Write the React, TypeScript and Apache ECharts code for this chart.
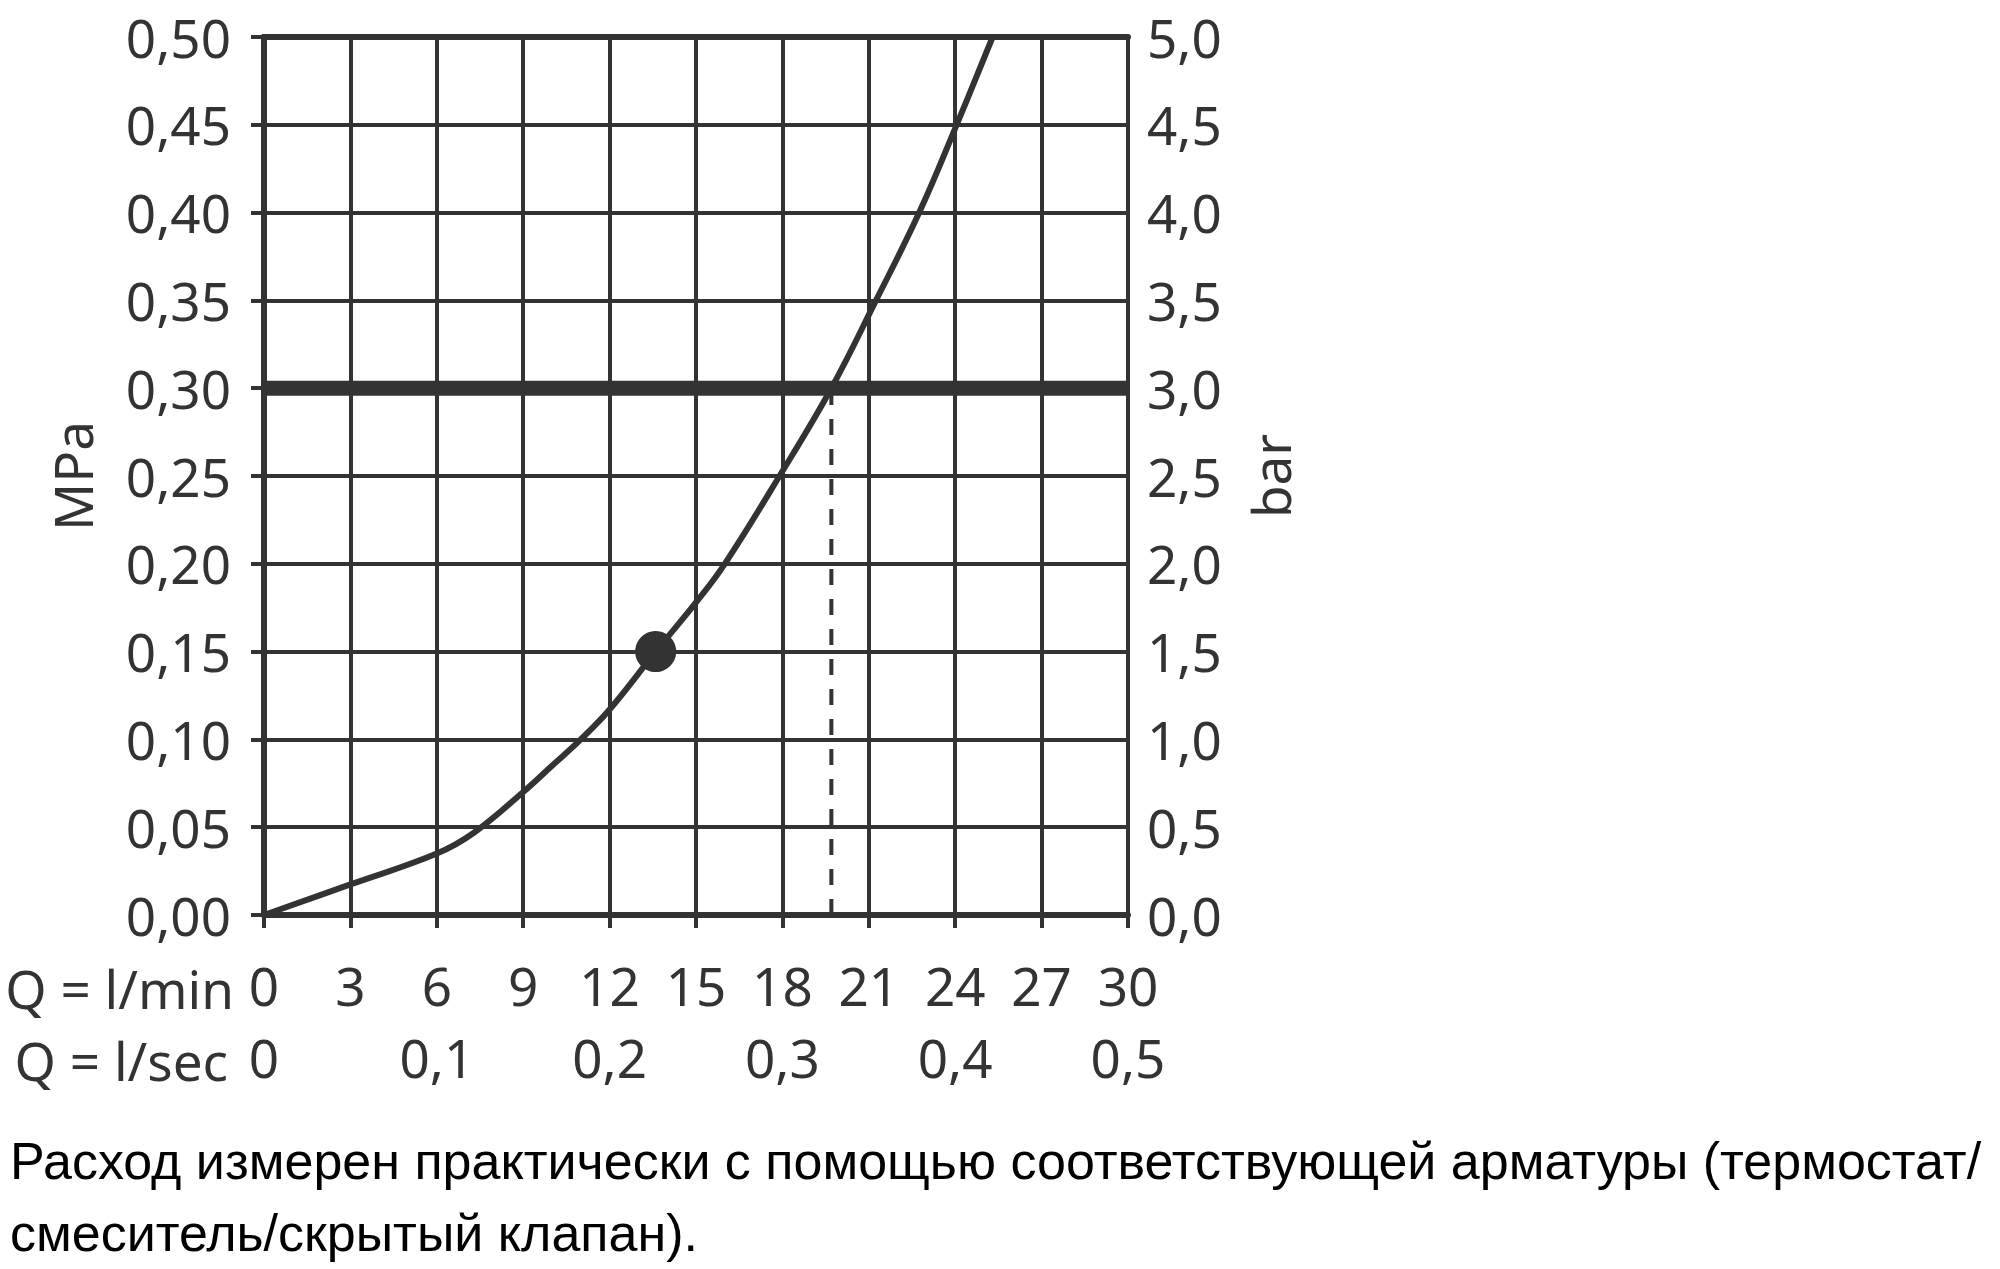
import React, { useEffect, useRef } from "react";
import * as echarts from "echarts";

// Flow rate Q (l/min) and pressure (MPa)
const FLOW_LPM = [0, 3, 6, 7.3, 9, 10, 11, 12, 13.6, 15, 16.0, 17.9, 19.7, 21.25, 22.75, 24.05, 25.3];
const PRESSURE_MPA = [0, 0.0174, 0.035, 0.047, 0.07, 0.085, 0.1, 0.117, 0.15, 0.178, 0.2, 0.25, 0.3, 0.35, 0.4, 0.45, 0.5];

// Operating point marker
const POINT_FLOW = 13.6;
const POINT_PRESSURE = 0.15;

// Maximum recommended pressure line and the flow where it meets the curve
const LIMIT_PRESSURE = 0.3;
const LIMIT_FLOW = 19.7;

const X_MIN = 0;
const X_MAX = 30;
const X_STEP = 3;
const X2_STEP = 6;
const Y_MIN = 0;
const Y_MAX = 0.5;
const Y_STEP = 0.05;
const Y2_MAX = 5;
const Y2_STEP = 0.5;

const ROW1_LABEL = "Q = l/min";
const ROW2_LABEL = "Q = l/sec";
const Y_NAME = "MPa";
const Y2_NAME = "bar";
const CAPTION_1 = "Расход измерен практически с помощью соответствующей арматуры (термостат/";
const CAPTION_2 = "смеситель/скрытый клапан).";

const INK = "#333333";
const FONT = "Noto Sans";

export default function App() {
  const ref = useRef<HTMLDivElement>(null);

  useEffect(() => {
    if (!ref.current) return;
    const chart = echarts.init(ref.current, null, { renderer: "svg" });

    const curve = FLOW_LPM.map((q, i) => [q, PRESSURE_MPA[i]]);
    const labelStyle = { color: INK, fontFamily: FONT, fontSize: 53 };

    chart.setOption({
      animation: false,
      backgroundColor: "#ffffff",
      grid: { left: 264, right: 872, top: 37, bottom: 354, containLabel: false },
      xAxis: [
        {
          type: "value",
          position: "bottom",
          min: X_MIN,
          max: X_MAX,
          interval: X_STEP,
          axisLine: { show: true, onZero: false, lineStyle: { color: INK, width: 6 } },
          axisTick: { show: true, length: 13, lineStyle: { color: INK, width: 4 } },
          splitLine: { show: true, lineStyle: { color: INK, width: 4 } },
          axisLabel: { ...labelStyle, margin: 44 },
        },
        {
          type: "value",
          position: "bottom",
          offset: 72,
          min: X_MIN,
          max: X_MAX,
          interval: X2_STEP,
          axisLine: { show: false },
          axisTick: { show: false },
          splitLine: { show: false },
          axisLabel: {
            ...labelStyle,
            margin: 44,
            formatter: (v: number) => (v === 0 ? "0" : (v / 60).toFixed(1).replace(".", ",")),
          },
        },
        {
          type: "value",
          position: "top",
          min: X_MIN,
          max: X_MAX,
          interval: X_STEP,
          axisLine: { show: true, onZero: false, lineStyle: { color: INK, width: 6 } },
          axisTick: { show: false },
          splitLine: { show: false },
          axisLabel: { show: false },
        },
      ],
      yAxis: [
        {
          type: "value",
          position: "left",
          min: Y_MIN,
          max: Y_MAX,
          interval: Y_STEP,
          name: Y_NAME,
          nameLocation: "middle",
          nameRotate: 90,
          nameGap: 165,
          nameTextStyle: { color: INK, fontFamily: FONT, fontSize: 53 },
          axisLine: { show: true, lineStyle: { color: INK, width: 6 } },
          axisTick: { show: true, length: 13, lineStyle: { color: INK, width: 4 } },
          splitLine: { show: true, lineStyle: { color: INK, width: 4 } },
          axisLabel: {
            ...labelStyle,
            margin: 33,
            formatter: (v: number) => v.toFixed(2).replace(".", ","),
          },
        },
        {
          type: "value",
          position: "right",
          min: Y_MIN,
          max: Y2_MAX,
          interval: Y2_STEP,
          name: Y2_NAME,
          nameLocation: "middle",
          nameRotate: 90,
          nameGap: 116,
          nameTextStyle: { color: INK, fontFamily: FONT, fontSize: 53 },
          axisLine: { show: true, lineStyle: { color: INK, width: 6 } },
          axisTick: { show: true, length: 13, lineStyle: { color: INK, width: 4 } },
          splitLine: { show: false },
          axisLabel: {
            ...labelStyle,
            margin: 19,
            formatter: (v: number) => v.toFixed(1).replace(".", ","),
          },
        },
      ],
      series: [
        {
          type: "line",
          data: [
            [X_MIN, LIMIT_PRESSURE],
            [X_MAX, LIMIT_PRESSURE],
          ],
          symbol: "none",
          lineStyle: { color: INK, width: 15 },
          z: 3,
        },
        {
          type: "line",
          data: [
            [LIMIT_FLOW, Y_MIN],
            [LIMIT_FLOW, LIMIT_PRESSURE],
          ],
          symbol: "none",
          lineStyle: { color: INK, width: 4, type: [16, 14] },
          z: 3,
        },
        {
          type: "line",
          data: curve,
          symbol: "none",
          smooth: 0.4,
          lineStyle: { color: INK, width: 6 },
          z: 4,
        },
        {
          type: "scatter",
          data: [[POINT_FLOW, POINT_PRESSURE]],
          symbol: "circle",
          symbolSize: 41,
          itemStyle: { color: INK, opacity: 1 },
          z: 5,
        },
      ],
      graphic: [
        {
          type: "text",
          right: 2000 - 234,
          top: 962,
          style: { text: ROW1_LABEL, fill: INK, font: `53px "${FONT}"`, textAlign: "right" },
        },
        {
          type: "text",
          right: 2000 - 228,
          top: 1034,
          style: { text: ROW2_LABEL, fill: INK, font: `53px "${FONT}"`, textAlign: "right" },
        },
        {
          type: "text",
          left: 10,
          top: 1135,
          style: { text: CAPTION_1, fill: "#000000", font: `52px "Liberation Sans"` },
        },
        {
          type: "text",
          left: 10,
          top: 1207,
          style: { text: CAPTION_2, fill: "#000000", font: `52px "Liberation Sans"` },
        },
      ],
    });

    return () => chart.dispose();
  }, []);

  return (
    <div
      ref={ref}
      style={{ position: "absolute", left: 0, top: 0, width: 2000, height: 1269, background: "#fff" }}
    />
  );
}
